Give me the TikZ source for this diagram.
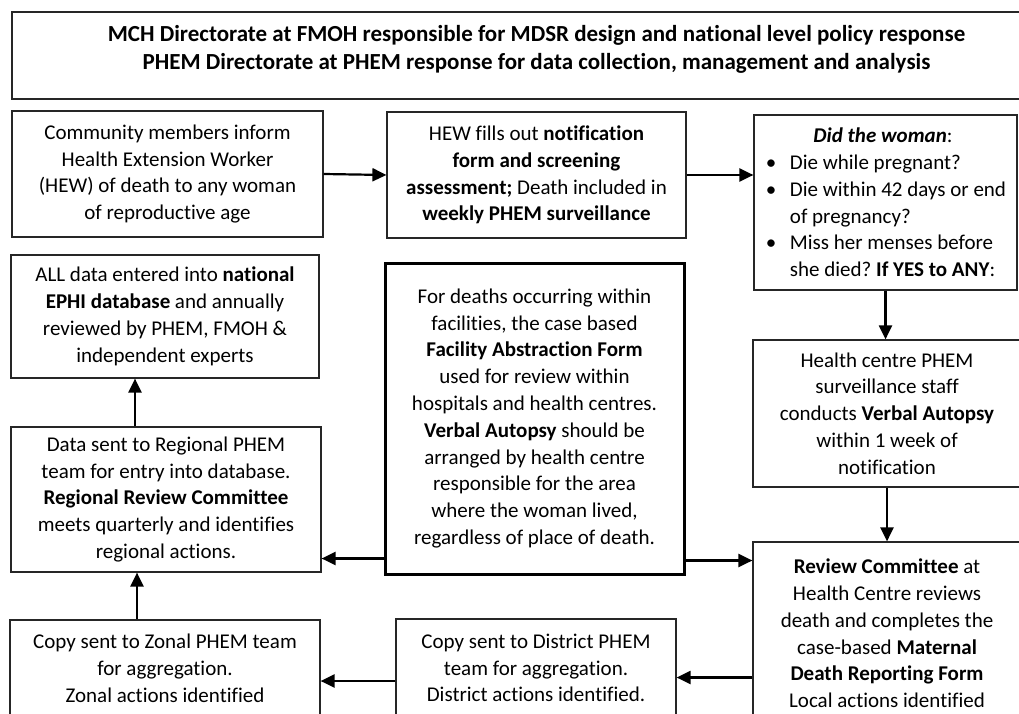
\documentclass[tikz,border=0pt]{standalone}
\usepackage{fontspec}
\setmainfont{Carlito}[Ligatures=NoCommon]
\usepackage{tikz}
\usetikzlibrary{arrows.meta}
\frenchspacing
\tikzstyle{flowbox}=[draw=black!85, line width=1.2pt, align=center, inner sep=0pt, font=\fontsize{21}{26.8}\selectfont]
\tikzstyle{bigbox}=[flowbox, line width=3pt, draw=black]
\tikzstyle{flow}=[-{Triangle[length=14pt,width=13pt]}, line width=2.2pt, draw=black]
\newcommand{\bul}{\makebox[25pt][l]{\hspace{1pt}\textbullet}}

\begin{document}
\begin{tikzpicture}[x=1pt,y=-1pt]
            \useasboundingbox (0,0) rectangle (1019,714);
            \clip (0,0) rectangle (1019,714);
            % top banner
            \node[flowbox, minimum width=1049, minimum height=87] (title) at (536.5,55.5) {};
            \node[font=\fontsize{23}{28}\selectfont\bfseries, align=center] (titletext) at ([yshift=6pt]title.center)
                {MCH Directorate at FMOH responsible for MDSR design and national level policy response\\
                 PHEM Directorate at PHEM response for data collection, management and analysis};
            % first row
            \node[flowbox, minimum width=311, minimum height=126] (comm) at (167.5,174)
                {Community members inform\\ Health Extension Worker\\ (HEW) of death to any woman\\ of reproductive age};
            \node[flowbox, minimum width=299, minimum height=126] (hew) at (536.5,175)
                {HEW fills out \textbf{notification}\\ \textbf{form and screening}\\ \textbf{assessment;} Death included in\\ \textbf{weekly PHEM surveillance}};
            \node[flowbox, minimum width=263, minimum height=175, align=left] (did) at (885.5,202.5)
                {\makebox[236pt][c]{\textbf{\textit{Did the woman}}:}\\
                 \bul Die while pregnant?\\
                 \bul Die within 42 days or end\\
                 \hspace*{25pt}of pregnancy?\\
                 \bul Miss her menses before\\
                 \hspace*{25pt}she died? \textbf{If YES to ANY}:};
            % middle
            \node[flowbox, minimum width=308, minimum height=123] (alldata) at (165,316.5)
                {ALL data entered into \textbf{national}\\ \textbf{EPHI database} and annually\\ reviewed by PHEM, FMOH \&\\ independent experts};
            \node[bigbox, minimum width=299, minimum height=311] (central) at (534.5,418.5)
                {For deaths occurring within\\ facilities, the case based\\ \textbf{Facility Abstraction Form}\\ used for review within\\ hospitals and health centres.\\
                 \textbf{Verbal Autopsy} should be\\ arranged by health centre\\ responsible for the area\\ where the woman lived,\\ regardless of place of death.};
            \node[flowbox, minimum width=268, minimum height=147] (health) at (887,413.5)
                {Health centre PHEM\\ surveillance staff\\ conducts \textbf{Verbal Autopsy}\\ within 1 week of\\ notification};
            \node[flowbox, minimum width=310, minimum height=145] (regional) at (166,499.5)
                {Data sent to Regional PHEM\\ team for entry into database.\\ \textbf{Regional Review Committee}\\ meets quarterly and identifies\\ regional actions.};
            % bottom row
            \node[flowbox, minimum width=310, minimum height=96] (zonal) at (165,668)
                {Copy sent to Zonal PHEM team\\ for aggregation.\\ Zonal actions identified};
            \node[flowbox, minimum width=280, minimum height=98] (district) at (536,668)
                {Copy sent to District PHEM\\ team for aggregation.\\ District actions identified.};
            \node[flowbox, minimum width=268, minimum height=183] (review) at (887,633.5)
                {\textbf{Review Committee} at\\ Health Centre reviews\\ death and completes the\\ case-based \textbf{Maternal}\\ \textbf{Death Reporting Form}\\ Local actions identified};
            % arrows
            \draw[flow] (comm.east) -- (hew.west);
            \draw[flow] (hew.east) -- (hew.east -| did.west);
            \draw[flow] (did.south) -- (did.south |- health.north);
            \draw[flow] (health.south) -- (review.north);
            \draw[flow] ([yshift=15pt]central.south east) -- ([yshift=15pt]central.south east -| review.west);
            \draw[flow] ([yshift=17pt]central.south west) -- ([yshift=17pt]central.south west -| regional.east);
            \draw[flow] ([xshift=-31pt]regional.north) -- ([xshift=-31pt]regional.north |- alldata.south);
            \draw[flow] ([xshift=-28pt]zonal.north) -- ([xshift=-28pt]zonal.north |- regional.south);
            \draw[flow] ([yshift=-44pt]review.west) -- ([yshift=-44pt]review.west -| district.east);
            \draw[flow] ([yshift=-13pt]district.west) -- ([yshift=-13pt]district.west -| zonal.east);
        \end{tikzpicture}
\end{document}
